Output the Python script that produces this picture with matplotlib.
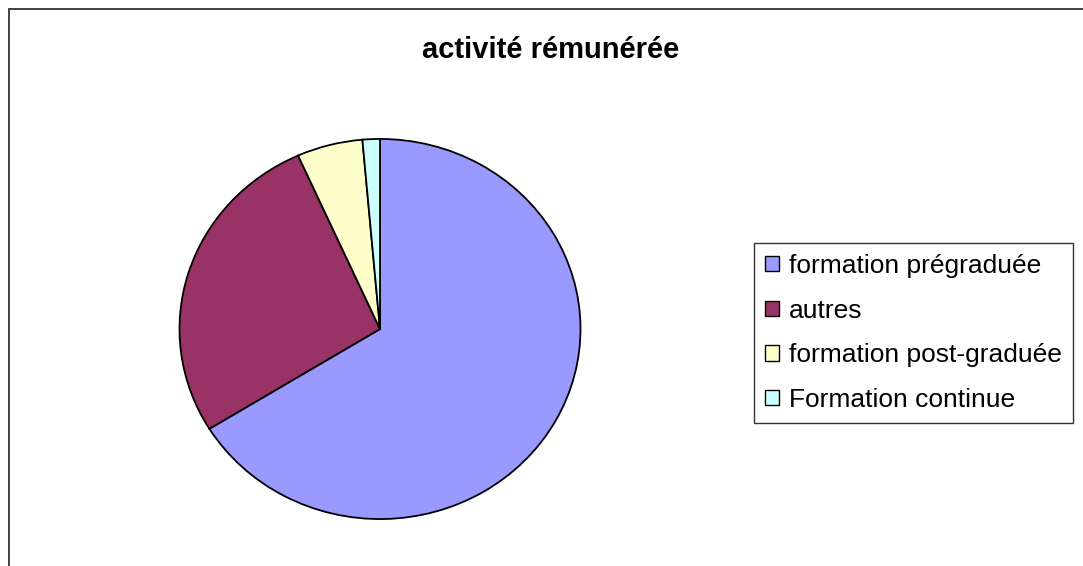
import matplotlib
matplotlib.use("Agg")
import matplotlib.pyplot as plt
from matplotlib.patches import Rectangle, Patch

plt.rcParams['font.family'] = ['Liberation Sans', 'DejaVu Sans']

title = "activité rémunérée"
categories = ["formation prégraduée", "autres", "formation post-graduée", "Formation continue"]
values = [66.2, 27.1, 5.3, 1.4]
colors = ["#9999FF", "#993366", "#FFFFCC", "#CCFFFF"]

W, H = 1083, 566
fig = plt.figure(figsize=(W / 100, H / 100), dpi=100)

# outer chart border (left/top visible)
fig.add_artist(Rectangle((8.5 / W, -0.1), 1.2, 1.1 - 8.5 / H,
                         transform=fig.transFigure, fill=False,
                         edgecolor="#333333", linewidth=1.3))

cx, cy, rx, ry = 380, 329, 201.5, 191
ax = fig.add_axes([(cx - rx) / W, (H - cy - ry) / H, 2 * rx / W, 2 * ry / H])
wedges, _ = ax.pie(values, colors=colors, startangle=90, counterclock=False,
                   radius=1.0,
                   wedgeprops=dict(edgecolor="black", linewidth=1.3))
ax.set_aspect('auto')
ax.set_xlim(-1.005, 1.005)
ax.set_ylim(-1.005, 1.005)
ax.axis('off')

fig.text(551 / W, 1 - 50 / H, title, ha='center', va='center',
         fontsize=21, fontweight='bold')

handles = [Patch(facecolor=c, edgecolor="black", linewidth=1.0) for c in colors]
leg = fig.legend(handles, categories, loc='upper left',
                 bbox_to_anchor=(754 / W, 1 - 243 / H),
                 frameon=True, fancybox=False, edgecolor="black",
                 fontsize=19, handlelength=0.52, handleheight=0.52,
                 handletextpad=0.38, labelspacing=0.78, borderpad=0.42,
                 borderaxespad=0.0)
leg.get_frame().set_linewidth(1.0)

fig.savefig("out.png", dpi=100)
